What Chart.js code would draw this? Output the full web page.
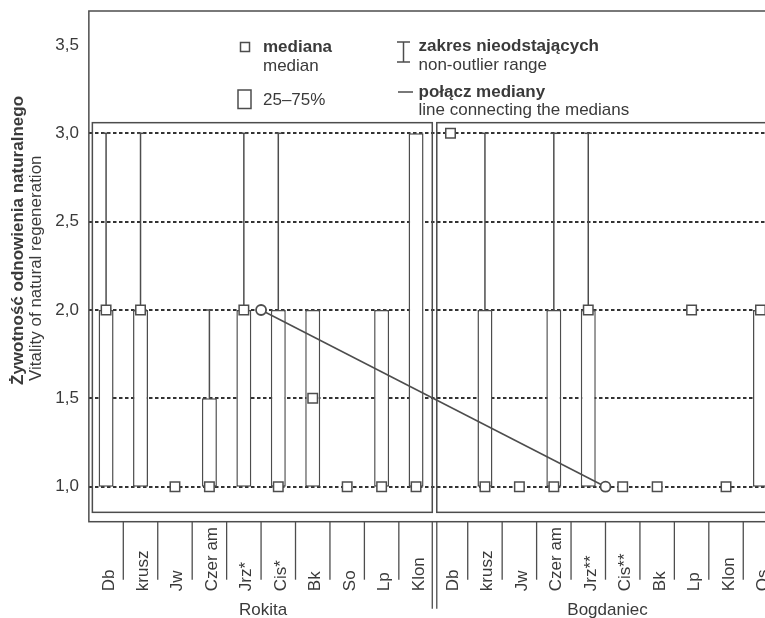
<!DOCTYPE html>
<html lang="pl">
<head>
<meta charset="utf-8">
<title>Żywotność odnowienia naturalnego</title>
<script src="https://cdn.jsdelivr.net/npm/chart.js@4.4.1/dist/chart.umd.min.js"></script>
<style>
  html, body { margin: 0; padding: 0; background: #ffffff; overflow: hidden; }
  #wrap { position: relative; width: 800px; height: 618px; }
</style>
</head>
<body>
<div id="wrap"><canvas id="chart"></canvas></div>
<script>
// Stands (groups) and species codes
const groups = ['Rokita', 'Bogdaniec'];
const speciesRokita = ['Db', 'krusz', 'Jw', 'Czer am', 'Jrz*', 'Cis*', 'Bk', 'So', 'Lp', 'Klon'];
const speciesBogdaniec = ['Db', 'krusz', 'Jw', 'Czer am', 'Jrz**', 'Cis**', 'Bk', 'Lp', 'Klon', 'Os'];
const categories = speciesRokita.concat(speciesBogdaniec);

// Vitality scores per species (Rokita first, then Bogdaniec)
const medians   = [2, 2, 1, 1,   2, 1, 1.5, 1, 1, 1,   3, 1, 1, 1, 2, 1, 1, 2, 1, 2];
const quartile1 = [1, 1, 1, 1,   1, 1, 1,   1, 1, 1,   3, 1, 1, 1, 1, 1, 1, 2, 1, 1];
const quartile3 = [2, 2, 1, 1.5, 2, 2, 2,   1, 2, 3,   3, 2, 1, 2, 2, 1, 1, 2, 1, 2];
const rangeMin  = [1, 1, 1, 1,   1, 1, 1,   1, 1, 1,   3, 1, 1, 1, 1, 1, 1, 2, 1, 1];
const rangeMax  = [3, 3, 1, 2,   3, 3, 2,   1, 2, 3,   3, 3, 1, 3, 3, 1, 1, 2, 1, 2];

// Line joining the Jrz/Cis medians of the two stands (x in category units)
const medianLinkX = [4.5, 14.5];
const medianLinkY = [2, 1];

// Value axis
const yTickValues = [1.0, 1.5, 2.0, 2.5, 3.0, 3.5];
const yGridValues = [1.0, 1.5, 2.0, 2.5, 3.0];
const yTitleMain = 'Żywotność odnowienia naturalnego';
const yTitleSub = 'Vitality of natural regeneration';

// Legend texts
const legendMedian = ['mediana', 'median'];
const legendBox = '25–75%';
const legendRange = ['zakres nieodstających', 'non-outlier range'];
const legendLink = ['połącz mediany', 'line connecting the medians'];

const FONT = '"Liberation Sans", Arial, Helvetica, sans-serif';
const INK = '#3a3a3a';
const LINE = '#4d4d4d';

const boxData = categories.map((_, i) => quartile3[i] > quartile1[i] ? [quartile1[i], quartile3[i]] : null);
const linkData = medianLinkX.map((x, i) => ({ x: x, y: medianLinkY[i] }));

function strokeLine(ctx, x1, y1, x2, y2) {
  ctx.beginPath();
  ctx.moveTo(x1, y1);
  ctx.lineTo(x2, y2);
  ctx.stroke();
}

const decorations = {
  id: 'decorations',
  beforeDatasetsDraw(chart) {
    const { ctx, chartArea: a, scales } = chart;
    const x = scales.x, y = scales.y, xl = scales.xl;
    ctx.save();
    ctx.strokeStyle = LINE;
    ctx.lineWidth = 1.5;
    ctx.setLineDash([]);
    // outer frame
    ctx.strokeRect(a.left, a.top, a.right - a.left, a.bottom - a.top);
    // one frame around each stand
    const n = speciesRokita.length;
    const fTop = y.getPixelForValue(3.06), fBot = y.getPixelForValue(0.855);
    [[-0.5, n - 0.5], [n - 0.5, categories.length - 0.5]].forEach(([s, e]) => {
      const l = xl.getPixelForValue(s) + 3.5;
      const r = xl.getPixelForValue(e) - 1;
      ctx.strokeRect(l, fTop, r - l, fBot - fTop);
    });
    // non-outlier range whiskers
    ctx.lineWidth = 1.5;
    categories.forEach((_, i) => {
      const cx = x.getPixelForValue(i);
      if (rangeMax[i] > quartile3[i]) {
        const yt = y.getPixelForValue(rangeMax[i]);
        strokeLine(ctx, cx, y.getPixelForValue(quartile3[i]), cx, yt);
        strokeLine(ctx, cx - 3.5, yt, cx + 3.5, yt);
      }
      if (rangeMin[i] < quartile1[i]) {
        const yb = y.getPixelForValue(rangeMin[i]);
        strokeLine(ctx, cx, y.getPixelForValue(quartile1[i]), cx, yb);
        strokeLine(ctx, cx - 3.5, yb, cx + 3.5, yb);
      }
    });
    ctx.restore();
  },
  afterDraw(chart) {
    const { ctx, chartArea: a, scales } = chart;
    const x = scales.x, xl = scales.xl;
    const n = speciesRokita.length;
    ctx.save();
    ctx.fillStyle = INK;
    ctx.strokeStyle = LINE;

    // category separators under the plot
    ctx.lineWidth = 1.3;
    for (let k = 1; k < categories.length; k++) {
      const px = xl.getPixelForValue(k - 0.5);
      if (k === n) {
        strokeLine(ctx, px - 1, a.bottom, px - 1, a.bottom + 87);
        strokeLine(ctx, px + 3.5, a.bottom, px + 3.5, a.bottom + 87);
      } else {
        strokeLine(ctx, px, a.bottom, px, a.bottom + 58);
      }
    }

    // species labels, rotated
    ctx.font = '17px ' + FONT;
    ctx.textAlign = 'left';
    ctx.textBaseline = 'alphabetic';
    categories.forEach((lab, i) => {
      const cx = x.getPixelForValue(i);
      ctx.save();
      ctx.translate(cx + 7.5, a.bottom + 69.5);
      ctx.rotate(-Math.PI / 2);
      ctx.fillText(lab, 0, 0);
      ctx.restore();
    });

    // stand names
    ctx.textAlign = 'center';
    const spans = [[-0.5, n - 0.5], [n - 0.5, categories.length - 0.5]];
    groups.forEach((g, gi) => {
      const cx = (xl.getPixelForValue(spans[gi][0]) + xl.getPixelForValue(spans[gi][1])) / 2;
      ctx.fillText(g, cx + 2, a.bottom + 93.5);
    });

    // axis title (two lines, rotated)
    ctx.textAlign = 'left';
    ctx.save();
    ctx.translate(22.5, 385);
    ctx.rotate(-Math.PI / 2);
    ctx.font = 'bold 17px ' + FONT;
    ctx.fillText(yTitleMain, 0, 0);
    ctx.restore();
    ctx.save();
    ctx.translate(40.5, 381);
    ctx.rotate(-Math.PI / 2);
    ctx.font = '17px ' + FONT;
    ctx.fillText(yTitleSub, 0, 0);
    ctx.restore();

    // legend
    ctx.lineWidth = 1.5;
    ctx.fillStyle = '#ffffff';
    ctx.fillRect(240.5, 42.5, 9, 9);
    ctx.strokeRect(240.5, 42.5, 9, 9);
    ctx.fillRect(238, 90, 13, 18.5);
    ctx.strokeRect(238, 90, 13, 18.5);
    strokeLine(ctx, 403.5, 42, 403.5, 62);
    strokeLine(ctx, 397, 42, 410, 42);
    strokeLine(ctx, 397, 62, 410, 62);
    strokeLine(ctx, 398, 92, 413, 92);

    ctx.fillStyle = INK;
    ctx.font = 'bold 17px ' + FONT;
    ctx.fillText(legendMedian[0], 263, 51.5);
    ctx.fillText(legendRange[0], 418.5, 50.5);
    ctx.fillText(legendLink[0], 418.5, 97);
    ctx.font = '17px ' + FONT;
    ctx.fillText(legendMedian[1], 263, 70.5);
    ctx.fillText(legendRange[1], 418.5, 69.5);
    ctx.fillText(legendBox, 263, 104.5);
    ctx.fillText(legendLink[1], 418.5, 115);
    ctx.restore();
  }
};

new Chart(document.getElementById('chart'), {
  type: 'bar',
  data: {
    labels: categories,
    datasets: [
      {
        label: legendBox,
        data: boxData,
        xAxisID: 'x',
        grouped: false,
        backgroundColor: '#ffffff',
        borderColor: LINE,
        borderWidth: 1.5,
        borderSkipped: false,
        inflateAmount: 0,
        barPercentage: 0.435,
        categoryPercentage: 1,
        order: 3
      },
      {
        type: 'line',
        label: legendLink[0],
        data: linkData,
        xAxisID: 'xl',
        borderColor: LINE,
        borderWidth: 1.5,
        pointStyle: 'circle',
        pointRadius: 5,
        pointBorderWidth: 1.8,
        pointBackgroundColor: '#ffffff',
        pointBorderColor: LINE,
        fill: false,
        order: 2
      },
      {
        type: 'line',
        label: legendMedian[0],
        data: medians,
        xAxisID: 'x',
        showLine: false,
        pointStyle: 'rect',
        pointRadius: 6.7,
        pointBorderWidth: 1.5,
        pointBackgroundColor: '#ffffff',
        pointBorderColor: LINE,
        order: 1
      }
    ]
  },
  options: {
    responsive: true,
    maintainAspectRatio: false,
    animation: false,
    events: [],
    layout: { padding: { top: 11, right: 22.3, bottom: 96.3, left: 0 } },
    plugins: { legend: { display: false }, tooltip: { enabled: false }, title: { display: false } },
    scales: {
      x: { type: 'category', display: false, offset: true },
      xl: { type: 'linear', display: false, offset: false, min: -0.5, max: categories.length - 0.5, position: 'bottom' },
      y: {
        min: 0.802,
        max: 3.692,
        afterBuildTicks: (s) => { s.ticks = yTickValues.map(v => ({ value: v })); },
        afterFit: (s) => { s.width = 88.86; s.paddingTop = 0; s.paddingBottom = 0; },
        ticks: {
          padding: 10,
          color: INK,
          font: { family: FONT, size: 17 },
          callback: (v) => Number(v).toFixed(1).replace('.', ',')
        },
        grid: {
          drawTicks: false,
          lineWidth: 2,
          color: (c) => (c.tick && yGridValues.includes(c.tick.value)) ? '#333333' : 'rgba(0,0,0,0)'
        },
        border: { display: false, dash: [3.5, 2.5] }
      }
    }
  },
  plugins: [decorations]
});
</script>
</body>
</html>
